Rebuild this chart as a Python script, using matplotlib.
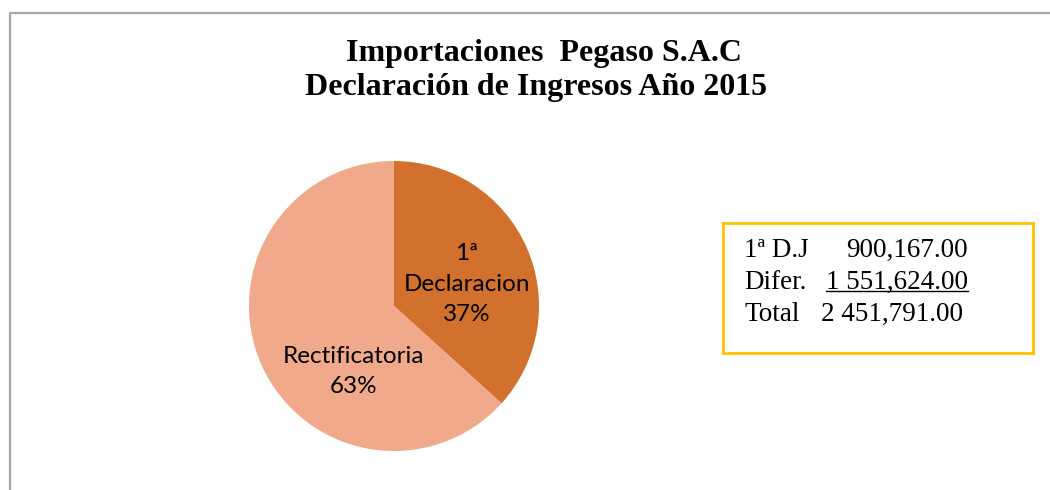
import matplotlib
matplotlib.use("Agg")
import matplotlib.pyplot as plt
from matplotlib.lines import Line2D

# Data
categories = ["1ª\nDeclaracion", "Rectificatoria"]
values = [900167.00, 1551624.00]
colors = ["#D2702D", "#F0A98A"]
title_lines = ["Importaciones  Pegaso S.A.C", "Declaración de Ingresos Año 2015"]
box_labels = ["1ª D.J", "Difer.", "Total"]
box_values = ["900,167.00", "1 551,624.00", "2 451,791.00"]

W, H = 1050, 490
fig = plt.figure(figsize=(W / 100, H / 100), dpi=100)
fig.patch.set_facecolor("white")

def fx(px):
    return px / W

def fy(py):
    return 1 - py / H

# Outer chart border (left and top visible)
fig.add_artist(Line2D([fx(9.5), fx(9.5), 1.0], [0.0, fy(13), fy(13)],
                      transform=fig.transFigure, color="#A6A6A6", lw=1.6))

# Title
fig.text(fx(544), fy(61), title_lines[0], ha="center", va="baseline",
         family="Liberation Serif", weight="bold", fontsize=23)
fig.text(fx(536), fy(95), title_lines[1], ha="center", va="baseline",
         family="Liberation Serif", weight="bold", fontsize=23)

# Pie
cx, cy, r = 394, 306, 145
ax = fig.add_axes([fx(cx - r), fy(cy + r), (2 * r) / W, (2 * r) / H])
ax.pie(values, colors=colors, startangle=90, counterclock=False,
       wedgeprops=dict(linewidth=0), radius=1.0)
ax.set_xlim(-1, 1)
ax.set_ylim(-1, 1)
ax.set_aspect("equal")
ax.axis("off")

total = sum(values)
pcts = [v / total * 100 for v in values]
label_pos = [(0.50, 0.15), (-0.28, -0.45)]
for (lx, ly), cat, p in zip(label_pos, categories, pcts):
    ax.text(lx, ly, f"{cat}\n{p:.0f}%", ha="center", va="center",
            family="Lato", fontsize=17.5, color="#000000", linespacing=1.55)

# Info box
bx0, by0, bx1, by1 = 723, 223, 1033, 353
bax = fig.add_axes([fx(bx0), fy(by1), (bx1 - bx0) / W, (by1 - by0) / H])
bax.set_xticks([])
bax.set_yticks([])
for s in bax.spines.values():
    s.set_color("#FFC000")
    s.set_linewidth(2)
bax.set_xlim(bx0, bx1)
bax.set_ylim(by1, by0)

baselines = [257, 289, 321]
val_texts = []
for i, (lab, val, yb) in enumerate(zip(box_labels, box_values, baselines)):
    bax.text(744, yb, lab, ha="left", va="baseline",
             family="Liberation Serif", fontsize=19.5)
    if i < 2:
        t = bax.text(968, yb, val, ha="right", va="baseline",
                     family="Liberation Serif", fontsize=19.5)
    else:
        t = bax.text(821, yb, val, ha="left", va="baseline",
                     family="Liberation Serif", fontsize=19.5)
    val_texts.append(t)

# Underline the difference value
fig.canvas.draw()
ext = val_texts[1].get_window_extent()
inv = bax.transData.inverted()
(ux0, _), (ux1, _) = inv.transform([[ext.x0, ext.y0], [ext.x1, ext.y0]])
bax.plot([ux0, ux1], [baselines[1] + 2, baselines[1] + 2], color="black", lw=1)

fig.savefig("out.png", dpi=100, facecolor="white")
